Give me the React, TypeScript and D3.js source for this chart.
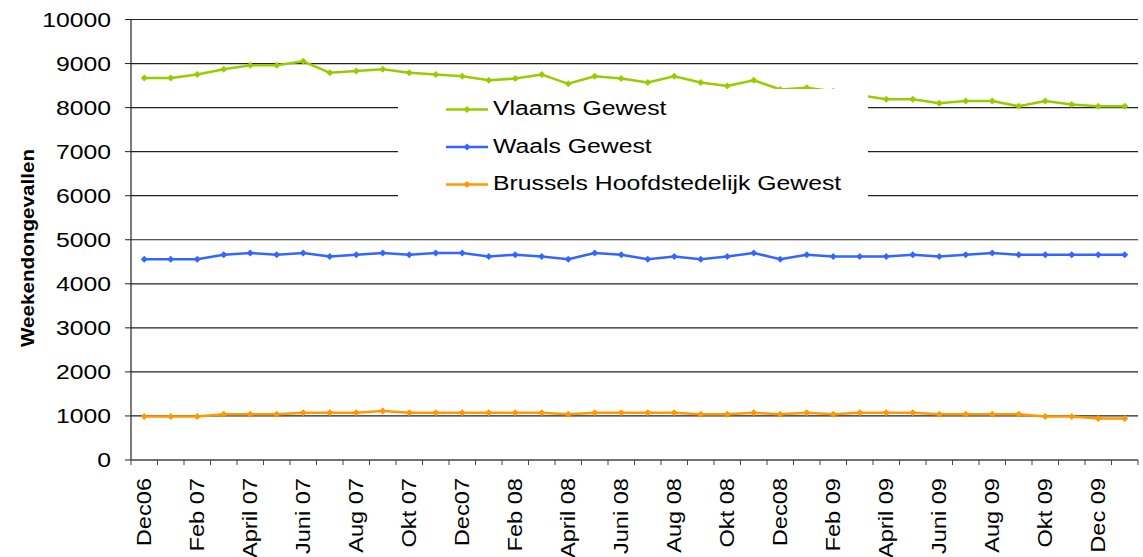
import React from "react";
import * as d3 from "d3";

// maanden (x-as), labels alleen om de twee maanden
const months = [
  "Dec06", "Jan 07", "Feb 07", "Mrt 07", "April 07", "Mei 07", "Juni 07", "Juli 07",
  "Aug 07", "Sep 07", "Okt 07", "Nov 07", "Dec07", "Jan 08", "Feb 08", "Mrt 08",
  "April 08", "Mei 08", "Juni 08", "Juli 08", "Aug 08", "Sep 08", "Okt 08", "Nov 08",
  "Dec08", "Jan 09", "Feb 09", "Mrt 09", "April 09", "Mei 09", "Juni 09", "Juli 09",
  "Aug 09", "Sep 09", "Okt 09", "Nov 09", "Dec 09", "Jan 10",
];

const vlaams = [
  8670, 8670, 8750, 8870, 8960, 8960, 9050, 8790, 8830, 8870, 8790, 8750, 8710,
  8620, 8660, 8750, 8540, 8710, 8660, 8570, 8710, 8570, 8490, 8620, 8410, 8450,
  8370, 8280, 8190, 8190, 8100, 8150, 8150, 8030, 8150, 8070, 8030, 8030,
];

const waals = [
  4560, 4560, 4560, 4660, 4700, 4660, 4700, 4620, 4660, 4700, 4660, 4700, 4700,
  4620, 4660, 4620, 4560, 4700, 4660, 4560, 4620, 4560, 4620, 4700, 4560, 4660,
  4620, 4620, 4620, 4660, 4620, 4660, 4700, 4660, 4660, 4660, 4660, 4660,
];

const brussel = [
  990, 990, 990, 1040, 1040, 1040, 1070, 1070, 1070, 1110, 1070, 1070, 1070,
  1070, 1070, 1070, 1040, 1070, 1070, 1070, 1070, 1040, 1040, 1070, 1040, 1070,
  1040, 1070, 1070, 1070, 1040, 1040, 1040, 1040, 990, 990, 940, 940,
];

const seriesNames = ["Vlaams Gewest", "Waals Gewest", "Brussels Hoofdstedelijk Gewest"];
const yTicks = [0, 1000, 2000, 3000, 4000, 5000, 6000, 7000, 8000, 9000, 10000];

const W = 1143;
const H = 557;
const left = 131;
const right = 1138;
const top = 19.5;
const bottom = 460;
const font = "'Liberation Sans', Arial, sans-serif";
const sx = 1.18; // de tekst in het origineel is breed uitgerekt

export default function App() {
  const x = d3.scaleBand<string>().domain(months).range([left, right]).padding(0);
  const y = d3.scaleLinear().domain([0, 10000]).range([bottom, top]);
  const cx = (i: number) => (x(months[i]) as number) + x.bandwidth() / 2;

  const series = [
    { name: seriesNames[0], values: vlaams, color: "#99cc00" },
    { name: seriesNames[1], values: waals, color: "#3366ff" },
    { name: seriesNames[2], values: brussel, color: "#ff9900" },
  ];

  const line = d3
    .line<number>()
    .x((_, i) => cx(i))
    .y((d) => y(d));

  const diamond = "M0,-3.5L3.5,0L0,3.5L-3.5,0Z";
  const boundaries = d3.range(months.length + 1).map((i) => left + i * x.bandwidth());

  return (
    <svg width={W} height={H} style={{ position: "absolute", left: 0, top: 0 }}>
      <rect width={W} height={H} fill="#fff" />
      {/* rasterlijnen */}
      {yTicks.slice(1).map((t) => (
        <line key={t} x1={left} x2={right} y1={y(t)} y2={y(t)} stroke="#222" strokeWidth={1.2} />
      ))}
      {/* assen */}
      <line x1={left} x2={left} y1={top} y2={bottom} stroke="#222" strokeWidth={1.2} />
      <line x1={left} x2={right} y1={bottom} y2={bottom} stroke="#444" strokeWidth={1.4} />
      {yTicks.map((t) => (
        <g key={t}>
          <line x1={left - 6} x2={left} y1={y(t)} y2={y(t)} stroke="#222" />
          <g transform={`translate(111,${y(t)}) scale(${sx},1)`}>
            <text textAnchor="end" dy="0.35em" fontFamily={font} fontSize={21} fill="#000">
              {t}
            </text>
          </g>
        </g>
      ))}
      {boundaries.map((b, i) => (
        <line key={i} x1={b} x2={b} y1={bottom} y2={bottom + 5} stroke="#444" />
      ))}
      {months.map((m, i) =>
        i % 2 === 0 ? (
          <g key={m} transform={`translate(${cx(i)},478) rotate(-90) scale(${sx},1)`}>
            <text textAnchor="end" dy="0.35em" fontFamily={font} fontSize={20} fill="#000">
              {m}
            </text>
          </g>
        ) : null
      )}
      <g transform={`translate(28,248) rotate(-90) scale(${sx},1)`}>
        <text textAnchor="middle" dy="0.35em" fontFamily={font} fontSize={17.5} fontWeight="bold" fill="#000">
          Weekendongevallen
        </text>
      </g>
      {/* lijnen */}
      {series.map((s) => (
        <g key={s.name}>
          <path d={line(s.values) ?? ""} fill="none" stroke={s.color} strokeWidth={2.5} />
          {s.values.map((v, i) => (
            <path key={i} d={diamond} transform={`translate(${cx(i)},${y(v)})`} fill={s.color} />
          ))}
        </g>
      ))}
      {/* legende */}
      <rect x={398} y={89} width={470} height={114} fill="#fff" />
      {series.map((s, i) => {
        const ly = 108 + i * 37.5;
        return (
          <g key={s.name}>
            <line x1={446} x2={488} y1={ly + 1.5} y2={ly + 1.5} stroke={s.color} strokeWidth={2.5} />
            <path d={diamond} transform={`translate(467,${ly + 1.5})`} fill={s.color} />
            <g transform={`translate(493,${ly}) scale(${sx},1)`}>
              <text dy="0.35em" fontFamily={font} fontSize={21} fill="#000">
                {s.name}
              </text>
            </g>
          </g>
        );
      })}
    </svg>
  );
}
